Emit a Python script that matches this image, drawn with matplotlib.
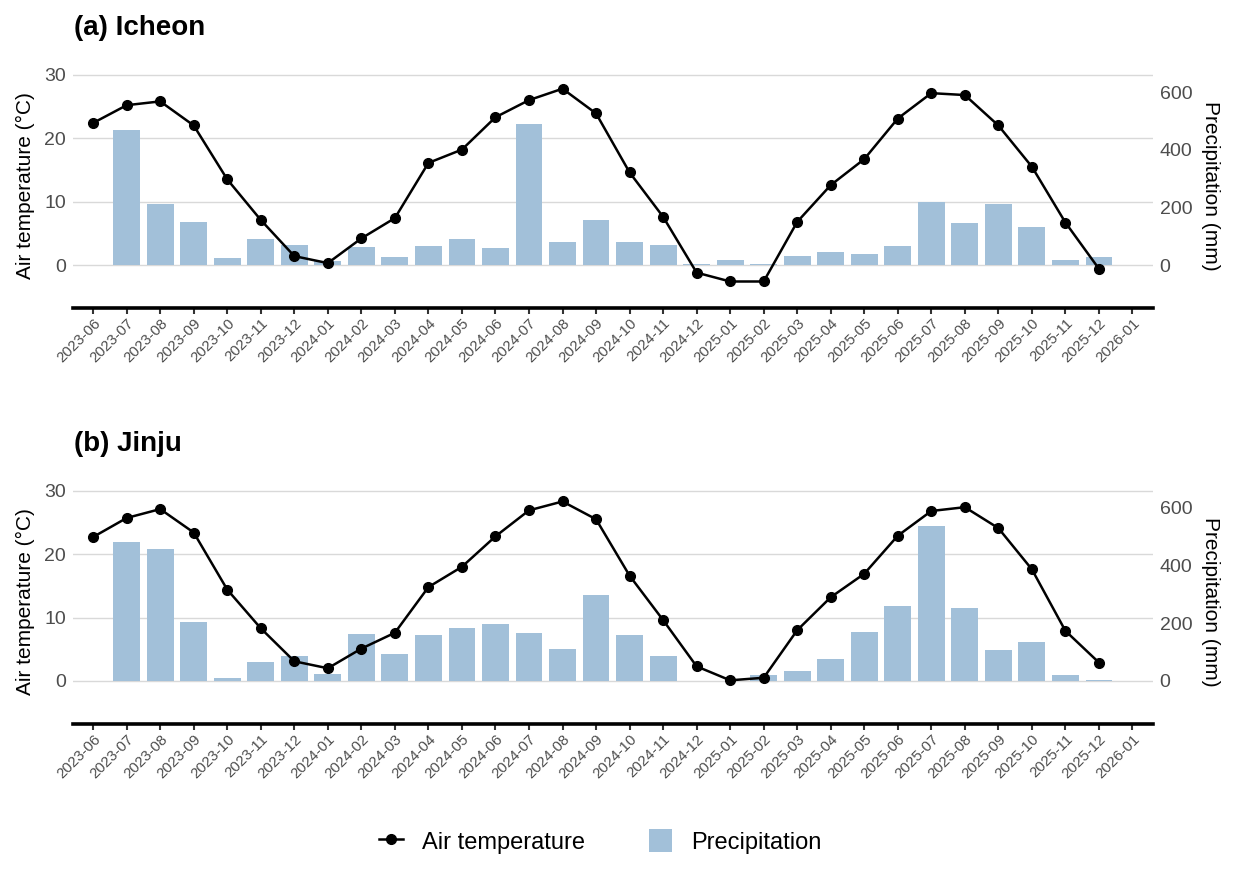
import numpy as np
import matplotlib
matplotlib.use("Agg")
import matplotlib.pyplot as plt
from matplotlib.lines import Line2D
from matplotlib.patches import Patch

plt.rcParams["font.family"] = ["Liberation Sans", "DejaVu Sans"]

# Monthly data, 2023-06 .. 2025-12
months = [f"{y}-{m:02d}" for y in (2023, 2024, 2025) for m in range(1, 13)]
months = months[5:]
tick_labels = months + ["2026-01"]

icheon_temp = [22.4, 25.2, 25.8, 22.0, 13.5, 7.1, 1.4, 0.3, 4.2, 7.4, 16.1, 18.2,
               23.3, 26.0, 27.8, 23.9, 14.6, 7.6, -1.2, -2.6, -2.6, 6.8, 12.6, 16.7,
               23.1, 27.1, 26.8, 22.0, 15.5, 6.7, -0.6]
icheon_prcp = [np.nan, 468, 211, 149, 23, 89, 70, 13, 62, 28, 65, 90,
               59, 490, 79, 156, 80, 70, 3, 17, 3, 31, 44, 37,
               65, 218, 145, 211, 131, 16, 28]

jinju_temp = [22.7, 25.7, 27.1, 23.4, 14.4, 8.3, 3.1, 2.0, 5.1, 7.6, 14.8, 18.0,
              22.8, 26.9, 28.3, 25.5, 16.6, 9.6, 2.3, 0.1, 0.5, 8.0, 13.2, 16.9,
              22.9, 26.8, 27.4, 24.1, 17.6, 7.9, 2.9]
jinju_prcp = [np.nan, 482, 459, 203, 9, 65, 88, 23, 162, 92, 161, 185,
              198, 167, 112, 299, 159, 88, 0, 0, 22, 36, 77, 170,
              260, 537, 252, 107, 136, 22, 5]

SCALE = 22  # mm per degree on the secondary axis
BAR_COLOR = "#A2C0D9"
TICK_COLOR = "#4D4D4D"
GRID_COLOR = "#D9D9D9"

fig = plt.figure(figsize=(12.38, 8.72), dpi=100)


def draw_panel(rect, title, temp, prcp):
    ax = fig.add_axes(rect)
    x = np.arange(len(temp))
    ylim = (-6.75, 31.75)

    ax.set_ylim(*ylim)
    ax.set_xlim(-0.6, 31.6)
    ax.set_yticks([0, 10, 20, 30])
    ax.grid(axis="y", color=GRID_COLOR, linewidth=1.0, zorder=0)
    ax.set_axisbelow(True)
    for s in ["top", "right", "left"]:
        ax.spines[s].set_visible(False)
    ax.spines["bottom"].set_linewidth(2.6)
    ax.spines["bottom"].set_color("black")

    ax.set_xticks(np.arange(len(tick_labels)))
    ax.set_xticklabels(tick_labels, rotation=45, ha="right", rotation_mode="anchor",
                       fontsize=10.8, color=TICK_COLOR)
    ax.tick_params(axis="x", length=4, width=1.5, color="#333333", pad=2)
    ax.tick_params(axis="y", length=0, labelsize=14, labelcolor=TICK_COLOR, pad=5)
    ax.set_ylabel("Air temperature (°C)", fontsize=15, labelpad=7)

    ax2 = ax.twinx()
    ax2.set_ylim(ylim[0] * SCALE, ylim[1] * SCALE)
    ax2.set_yticks([0, 200, 400, 600])
    ax2.bar(x, prcp, width=0.8, color=BAR_COLOR, zorder=1)
    for s in ax2.spines.values():
        s.set_visible(False)
    ax2.tick_params(axis="y", length=0, labelsize=14, labelcolor=TICK_COLOR, pad=5)
    ax2.set_ylabel("Precipitation (mm)", fontsize=15, rotation=-90, labelpad=20)

    # temperature line on top of bars
    ax3 = ax.twinx()
    ax3.set_ylim(*ylim)
    ax3.set_axis_off()
    ax3.plot(x, temp, color="black", linewidth=1.8, marker="o", markersize=7)

    fig.text(rect[0] + 0.001, rect[1] + rect[3] + 0.026, title,
             fontsize=20, fontweight="bold", ha="left", va="bottom")
    return ax


draw_panel([0.059, 0.647, 0.872, 0.280], "(a) Icheon", icheon_temp, icheon_prcp)
draw_panel([0.059, 0.170, 0.872, 0.280], "(b) Jinju", jinju_temp, jinju_prcp)

handles = [Line2D([0], [0], color="black", linewidth=1.8, marker="o", markersize=7),
           Patch(facecolor=BAR_COLOR, edgecolor="none")]
fig.legend(handles, ["Air temperature", "Precipitation"], loc="center",
           bbox_to_anchor=(0.485, 0.035), ncol=2, frameon=False, fontsize=17,
           handlelength=1.0, handleheight=1.1, columnspacing=2.7, handletextpad=0.8)

fig.savefig("out.png", dpi=100)
